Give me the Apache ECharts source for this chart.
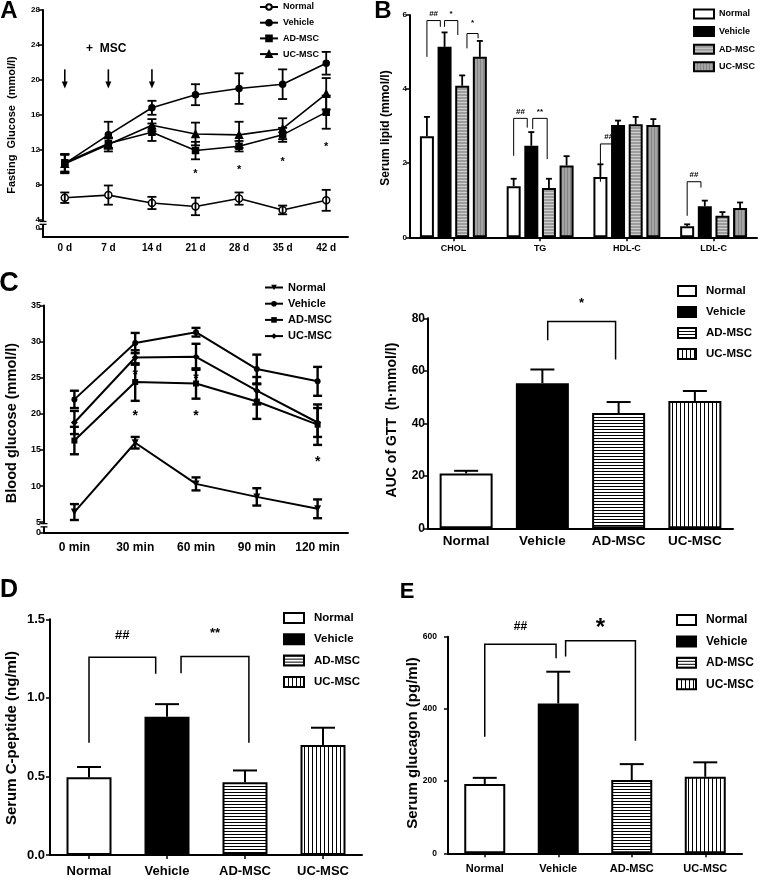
<!DOCTYPE html>
<html><head><meta charset="utf-8">
<script src="https://cdn.jsdelivr.net/npm/echarts@6/dist/echarts.min.js"></script>
<style>html,body{margin:0;padding:0;background:#fff}#c{width:762px;height:884px}</style>
</head><body><div id="c"></div>
<script>
const FONT = '"Liberation Sans", Arial, Helvetica, sans-serif';
const GROUPS = ['Normal', 'Vehicle', 'AD-MSC', 'UC-MSC'];

// ---------- Panel A : fasting glucose ----------
const daysA = ['0 d', '7 d', '14 d', '21 d', '28 d', '35 d', '42 d'];
const aNormal = [6.5, 6.8, 5.9, 5.5, 6.4, 5.1, 6.2];
const aNormalErr = [0.6, 1.1, 0.7, 1.0, 0.7, 0.5, 1.2];
const aVehicle = [10.4, 13.7, 16.8, 18.3, 19.0, 19.5, 21.9];
const aVehicleErr = [1.0, 1.5, 0.8, 1.2, 1.75, 1.7, 1.3];
const aAD = [10.5, 12.7, 14.0, 11.9, 12.4, 13.7, 16.3];
const aADErr = [1.0, 0.6, 1.0, 1.0, 0.6, 0.8, 1.9];
const aUC = [10.4, 12.6, 14.8, 13.8, 13.7, 14.4, 18.4];
const aUCErr = [1.1, 0.8, 0.7, 1.3, 1.5, 1.2, 1.8];
const aStars = [[3, 9.2], [4, 9.7], [5, 10.6], [6, 12.3]];
const aStarText = ['*', '*', '*', '*'];
const aArrows = [[0, 21.2, 19.0], [1, 21.2, 19.0], [2, 21.2, 19.0]];
const aTicks = [3, 4, 8, 12, 16, 20, 24, 28];      // 3 is printed as "0" below the break
const aTickText = {3: '0'};

// ---------- Panel B : serum lipid ----------
const lipidCats = ['CHOL', 'TG', 'HDL-C', 'LDL-C'];
const bNormal = [2.73, 1.38, 1.63, 0.30];
const bNormalErr = [0.52, 0.20, 0.34, 0.05];
const bVehicle = [5.14, 2.47, 3.03, 0.84];
const bVehicleErr = [0.39, 0.37, 0.12, 0.15];
const bAD = [4.09, 1.33, 3.05, 0.58];
const bADErr = [0.28, 0.25, 0.20, 0.10];
const bUC = [4.87, 1.94, 3.03, 0.79];
const bUCErr = [0.43, 0.25, 0.16, 0.15];
// [category, leftSlot, rightSlot, leftLegEnd, top, rightLegEnd, labelY]
const bBrackets = [
  [0, 0, 0.76, 4.87, 5.85, 5.68, 6.02],
  [0, 1.0, 1.75, 5.68, 5.85, 5.46, 6.02],
  [0, 2.27, 2.9, 5.1, 5.5, 5.37, 5.78],
  [1, 0, 0.77, 2.2, 3.21, 2.96, 3.4],
  [1, 1.08, 1.9, 2.92, 3.21, 2.11, 3.4],
  [2, 0, 0.95, 1.5, 2.52, 2.34, 2.7],
  [3, 0, 0.78, 0.58, 1.5, 1.34, 1.7]
];
const bBracketText = ['##', '*', '*', '##', '**', '##', '##'];

// ---------- Panel C left : GTT ----------
const gttTimes = ['0 min', '30 min', '60 min', '90 min', '120 min'];
const cNormal = [6.4, 16.0, 10.3, 8.5, 6.85];
const cNormalErr = [1.1, 0.8, 0.9, 1.2, 1.3];
const cVehicle = [22.0, 29.8, 31.3, 26.2, 24.5];
const cVehicleErr = [1.2, 1.4, 0.6, 2.0, 2.0];
const cAD = [16.3, 24.4, 24.2, 21.7, 18.5];
const cADErr = [1.9, 2.6, 2.1, 2.4, 2.8];
const cUC = [18.8, 27.8, 27.9, 23.2, 18.8];
const cUCErr = [1.6, 1.0, 1.8, 1.9, 2.0];
const cStars = [[1, 25.4], [1, 19.7], [2, 24.8], [2, 19.7], [4, 13.3]];
const cStarText = ['*', '*', '*', '*', '*'];
const cTicks = [3.5, 5, 10, 15, 20, 25, 30, 35];   // 3.5 is printed as "0" below the break
const cTickText = {3.5: '0'};

// ---------- Panel C right : AUC ----------
const aucValues = [20.9, 55.3, 43.9, 48.5];
const aucErr = [1.0, 5.2, 4.2, 3.8];
const aucBrackets = [[0, 1.07, 1.96, 71.6, 78.8, 64.3, 85.5]];
const aucBracketText = ['*'];

// ---------- Panel D : C-peptide ----------
const cpepValues = [0.495, 0.88, 0.463, 0.70];
const cpepErr = [0.065, 0.08, 0.075, 0.11];
const cpepBrackets = [[0, 0, 0.855, 0.715, 1.259, 1.153, 1.40], [0, 1.18, 2.05, 1.157, 1.263, 0.715, 1.41]];
const cpepBracketText = ['##', '**'];

// ---------- Panel E : glucagon ----------
const glucValues = [192, 415, 203, 212];
const glucErr = [17, 88, 44, 40];
const glucBrackets = [[0, 0, 0.97, 323, 579, 540, 627], [0, 1.1, 2.05, 545, 589, 312, 622]];
const glucBracketText = ['##', '*'];

// ---------- helpers ----------
function stripes(bg, fg, horizontal, step) {
  const c = document.createElement('canvas');
  c.width = horizontal ? 8 : step; c.height = horizontal ? step : 8;
  const g = c.getContext('2d');
  g.fillStyle = bg; g.fillRect(0, 0, c.width, c.height);
  g.fillStyle = fg;
  if (horizontal) g.fillRect(0, 0, c.width, 1); else g.fillRect(0, 0, 1, c.height);
  return { image: c, repeat: 'repeat' };
}
const AD_FILL = stripes('#ffffff', '#000000', true, 3);
const UC_FILL = stripes('#ffffff', '#000000', false, 4);
const AD_FILL_B = stripes('#9c9c9c', '#cfcfcf', true, 3);
const UC_FILL_B = stripes('#a4a4a4', '#858585', false, 3);
const BAR_FILLS = ['#ffffff', '#000000', AD_FILL, UC_FILL];
const BAR_FILLS_B = ['#ffffff', '#000000', AD_FILL_B, UC_FILL_B];
const BW_B = 14, STEP_B = BW_B * 1.26;

function txtStyle(text, font) {
  return { text, font, fill: '#000', align: 'center', verticalAlign: 'middle', textAlign: 'center', textVerticalAlign: 'middle' };
}
function ln(x1, y1, x2, y2, w) {
  return { type: 'line', shape: { x1, y1, x2, y2 }, style: { stroke: '#000', lineWidth: w } };
}
function symErr(cap, lw) {
  return function (params, api) {
    const i = api.value(0), v = api.value(1), e = api.value(2);
    const hi = api.coord([i, v + e]), lo = api.coord([i, v - e]);
    const x = hi[0];
    return { type: 'group', children: [ln(x, hi[1], x, lo[1], lw), ln(x - cap, hi[1], x + cap, hi[1], lw), ln(x - cap, lo[1], x + cap, lo[1], lw)] };
  };
}
function upErr(offset, cap, lw) {
  return function (params, api) {
    const i = api.value(0), v = api.value(1), e = api.value(2);
    const p0 = api.coord([i, v]), p1 = api.coord([i, v + e]);
    const x = p0[0] + offset;
    return { type: 'group', children: [ln(x, p0[1], x, p1[1], lw), ln(x - cap, p1[1], x + cap, p1[1], lw)] };
  };
}
function textMarks(texts, font) {
  return function (params, api) {
    const p = api.coord([api.value(0), api.value(1)]);
    return { type: 'text', x: p[0], y: p[1], style: txtStyle(texts[params.dataIndex], font) };
  };
}
const xSlotB = (api, cat, slot) => api.coord([cat, 0])[0] + (slot - 1.5) * STEP_B;
const xBand = (api, cat, pos) => api.coord([0, 0])[0] + pos * api.size([1, 0])[0];
function brackets(rows, texts, xAt, lw, fontFn) {
  return function (params, api) {
    const r = rows[params.dataIndex], cat = r[0];
    const x1 = xAt(api, cat, r[1]), x2 = xAt(api, cat, r[2]);
    const yL = api.coord([cat, r[3]])[1], yT = api.coord([cat, r[4]])[1], yR = api.coord([cat, r[5]])[1], yLab = api.coord([cat, r[6]])[1];
    const t = texts[params.dataIndex];
    return { type: 'group', children: [
      { type: 'polyline', shape: { points: [[x1, yL], [x1, yT], [x2, yT], [x2, yR]] }, style: { stroke: '#000', lineWidth: lw, fill: null } },
      { type: 'text', x: (x1 + x2) / 2, y: yLab, style: txtStyle(t, fontFn(t)) }
    ] };
  };
}
function arrows(params, api) {
  const i = api.value(0);
  const p0 = api.coord([i, api.value(1)]), p1 = api.coord([i, api.value(2)]);
  return { type: 'group', children: [
    ln(p0[0], p0[1], p1[0], p1[1] - 5, 1.6),
    { type: 'polygon', shape: { points: [[p1[0] - 3, p1[1] - 7], [p1[0] + 3, p1[1] - 7], [p1[0], p1[1]]] }, style: { fill: '#000' } }
  ] };
}
function axisBreak(vHi, vLo, half) {
  return function (params, api) {
    const x = params.coordSys.x;
    const y1 = api.coord([0, vHi])[1], y2 = api.coord([0, vLo])[1];
    return { type: 'group', children: [
      { type: 'rect', shape: { x: x - 2, y: y1, width: 4, height: y2 - y1 }, style: { fill: '#fff' } },
      ln(x - half, y1, x + half, y1, 1.3), ln(x - half, y2, x + half, y2, 1.3)
    ] };
  };
}
const onlyAt = (vals, i) => vals.map((v, j) => (j === i ? v : '-'));
const errRows = (vals, errs) => vals.map((v, i) => [i, v, errs[i]]);

function catAxis(grid, data, fs, margin, ticks) {
  return {
    gridIndex: grid, type: 'category', data, boundaryGap: true,
    axisLine: { onZero: false, lineStyle: { color: '#000', width: 2 } },
    axisTick: { show: ticks, alignWithLabel: true, length: 4, lineStyle: { color: '#000', width: 1.5 } },
    axisLabel: { color: '#000', fontFamily: FONT, fontWeight: 'bold', fontSize: fs, margin, interval: 0 },
    splitLine: { show: false }
  };
}
function valAxis(grid, min, max, interval, fs, margin, extra, fmt) {
  const ax = {
    gridIndex: grid, type: 'value', min, max, interval,
    axisLine: { show: true, lineStyle: { color: '#000', width: 2 } },
    axisTick: { show: true, length: 4, lineStyle: { color: '#000', width: 1.5 } },
    axisLabel: { color: '#000', fontFamily: FONT, fontWeight: 'bold', fontSize: fs, margin },
    splitLine: { show: false }
  };
  if (fmt) ax.axisLabel.formatter = fmt;
  if (extra) {
    ax.axisTick.customValues = extra.values;
    ax.axisLabel.customValues = extra.values;
    ax.axisLabel.formatter = v => (extra.text[v] !== undefined ? extra.text[v] : String(v));
    delete ax.interval;
  }
  return ax;
}
function legendOf(prefix, left, top, fs, lh, gap, iw, ih, pad, icon) {
  const l = {
    orient: 'vertical', left, top, itemWidth: iw, itemHeight: ih, itemGap: gap, padding: 0,
    selectedMode: false, data: GROUPS.map(g => prefix + ':' + g),
    formatter: n => n.slice(n.indexOf(':') + 1),
    textStyle: { fontFamily: FONT, fontWeight: 'bold', fontSize: fs, lineHeight: lh, color: '#000', padding: [0, 0, 0, pad] }
  };
  if (icon) l.icon = icon;
  return l;
}

const series = [];
// Panel A lines
const aSets = [[aNormal, aNormalErr, 'circle', 7, '#fff'], [aVehicle, aVehicleErr, 'circle', 6, '#000'], [aAD, aADErr, 'rect', 6, '#000'], [aUC, aUCErr, 'triangle', 7, '#000']];
aSets.forEach((s, k) => {
  series.push({ type: 'line', name: 'A:' + GROUPS[k], xAxisIndex: 0, yAxisIndex: 0, data: s[0], symbol: s[2], symbolSize: s[3],
    lineStyle: { color: '#000', width: 1.6 }, itemStyle: { color: s[4], borderColor: '#000', borderWidth: 1.5 }, z: 3 });
  series.push({ type: 'custom', name: 'aErr' + k, xAxisIndex: 0, yAxisIndex: 0, data: errRows(s[0], s[1]), renderItem: symErr(4.5, 1.8), z: 4 });
});
series.push({ type: 'custom', name: 'aStars', xAxisIndex: 0, yAxisIndex: 0, data: aStars, renderItem: textMarks(aStarText, 'bold 11px ' + FONT), z: 4 });
series.push({ type: 'custom', name: 'aArrows', xAxisIndex: 0, yAxisIndex: 0, data: aArrows, renderItem: arrows, z: 4 });
series.push({ type: 'custom', name: 'aBreak', xAxisIndex: 0, yAxisIndex: 0, data: [[0, 3.78]], renderItem: axisBreak(3.78, 3.45, 3.5), z: 10 });

// Panel B bars
[[bNormal, bNormalErr], [bVehicle, bVehicleErr], [bAD, bADErr], [bUC, bUCErr]].forEach((s, k) => {
  series.push({ type: 'bar', name: 'B:' + GROUPS[k], xAxisIndex: 1, yAxisIndex: 1, data: s[0], barWidth: BW_B, barGap: '26%',
    itemStyle: { color: BAR_FILLS_B[k], borderColor: '#000', borderWidth: 2 } });
  series.push({ type: 'custom', name: 'bErr' + k, xAxisIndex: 1, yAxisIndex: 1, data: errRows(s[0], s[1]), renderItem: upErr((k - 1.5) * STEP_B, 3, 1.8), z: 4 });
});
series.push({ type: 'custom', name: 'bBr', xAxisIndex: 1, yAxisIndex: 1, data: bBrackets, renderItem: brackets(bBrackets, bBracketText, xSlotB, 1, t => 'bold 8px ' + FONT), z: 4 });

// Panel C left lines
const cSets = [[cNormal, cNormalErr, 'triangle', 7, 180], [cVehicle, cVehicleErr, 'circle', 6, 0], [cAD, cADErr, 'rect', 6, 0], [cUC, cUCErr, 'diamond', 7, 0]];
cSets.forEach((s, k) => {
  series.push({ type: 'line', name: 'C:' + GROUPS[k], xAxisIndex: 2, yAxisIndex: 2, data: s[0], symbol: s[2], symbolSize: s[3], symbolRotate: s[4],
    lineStyle: { color: '#000', width: 2 }, itemStyle: { color: '#000' }, z: 3 });
  series.push({ type: 'custom', name: 'cErr' + k, xAxisIndex: 2, yAxisIndex: 2, data: errRows(s[0], s[1]), renderItem: symErr(4.5, 2.4), z: 4 });
});
series.push({ type: 'custom', name: 'cStars', xAxisIndex: 2, yAxisIndex: 2, data: cStars, renderItem: textMarks(cStarText, 'bold 14px ' + FONT), z: 4 });
series.push({ type: 'custom', name: 'cBreak', xAxisIndex: 2, yAxisIndex: 2, data: [[0, 4.8]], renderItem: axisBreak(4.8, 4.35, 3.5), z: 10 });

// Panels C right, D, E : one bar per group
function singleBarPanel(prefix, axisIdx, vals, errs, bw, cap, br, brText, brFont) {
  GROUPS.forEach((g, k) => {
    series.push({ type: 'bar', name: prefix + ':' + g, xAxisIndex: axisIdx, yAxisIndex: axisIdx, data: onlyAt(vals, k), barWidth: bw, barGap: '-100%',
      itemStyle: { color: BAR_FILLS[k], borderColor: '#000', borderWidth: 2 } });
  });
  series.push({ type: 'custom', name: prefix + 'Err', xAxisIndex: axisIdx, yAxisIndex: axisIdx, data: errRows(vals, errs), renderItem: upErr(0, cap, 2), z: 4 });
  series.push({ type: 'custom', name: prefix + 'Br', xAxisIndex: axisIdx, yAxisIndex: axisIdx, data: br, renderItem: brackets(br, brText, xBand, 1.5, brFont), z: 4 });
}
singleBarPanel('G', 3, aucValues, aucErr, 53, 12, aucBrackets, aucBracketText, t => 'bold 13px ' + FONT);
singleBarPanel('D', 4, cpepValues, cpepErr, 45, 12, cpepBrackets, cpepBracketText, t => 'bold 13px ' + FONT);
singleBarPanel('E', 5, glucValues, glucErr, 41, 12, glucBrackets, glucBracketText, t => (t === '*' ? 'bold 24px ' : 'bold 12px ') + FONT);

const gtxt = (x, y, text, font, rot) => ({ type: 'text', x, y, rotation: rot || 0, style: txtStyle(text, font) });

const option = {
  animation: false,
  backgroundColor: '#fff',
  grid: [
    { left: 43, top: 10, width: 305, height: 227 },
    { left: 410, top: 15, width: 347, height: 222.3 },
    { left: 44, top: 305.5, width: 304, height: 227.5 },
    { left: 428, top: 318.3, width: 305, height: 210 },
    { left: 50, top: 619.3, width: 312, height: 235.7 },
    { left: 448, top: 636.7, width: 294, height: 216.6 }
  ].map(g => Object.assign(g, { containLabel: false, outerBoundsMode: 'none' })),
  xAxis: [
    catAxis(0, daysA, 10, 6, false),
    catAxis(1, lipidCats, 9, 7, true),
    catAxis(2, gttTimes, 12, 9, false),
    catAxis(3, GROUPS, 13.5, 6, false),
    catAxis(4, GROUPS, 13, 10, true),
    catAxis(5, GROUPS, 11, 10, true)
  ],
  yAxis: [
    valAxis(0, 2, 28, null, 8, 3, { values: aTicks, text: aTickText }),
    valAxis(1, 0, 6, 2, 8, 3),
    valAxis(2, 3.5, 35, null, 9, 3, { values: cTicks, text: cTickText }),
    valAxis(3, 0, 80, 20, 12, 3),
    valAxis(4, 0, 1.5, 0.5, 13, 5, null, v => v.toFixed(1)),
    valAxis(5, 0, 600, 200, 8.5, 11)
  ],
  legend: [
    legendOf('A', 259, 1, 9, 12, 3.7, 18, 7, 0),
    legendOf('B', 693, 8, 9, 12, 5.6, 20, 9, 0, 'rect'),
    legendOf('C', 264, 281, 11, 13, 3.2, 18, 7, 0),
    legendOf('G', 677, 284, 11.5, 14, 7, 18, 10, 5, 'rect'),
    legendOf('D', 283, 611, 11.5, 14, 7.3, 20, 10, 5, 'rect'),
    legendOf('E', 676, 613, 12, 14, 7.4, 19, 10, 5, 'rect')
  ],
  graphic: [
    gtxt(9, 11, 'A', 'bold 24px ' + FONT),
    gtxt(383, 11, 'B', 'bold 24px ' + FONT),
    gtxt(9, 284, 'C', 'bold 27px ' + FONT),
    gtxt(9, 590, 'D', 'bold 25px ' + FONT),
    gtxt(407, 592, 'E', 'bold 22px ' + FONT),
    { type: 'text', x: 86, y: 49, style: { text: '+  MSC', font: 'bold 12px ' + FONT, fill: '#000', align: 'left', verticalAlign: 'middle', textAlign: 'left', textVerticalAlign: 'middle' } },
    gtxt(12, 125, 'Fasting  Glucose  (mmol/l)', 'bold 11px ' + FONT, Math.PI / 2),
    gtxt(386, 128, 'Serum lipid (mmol/l)', 'bold 12px ' + FONT, Math.PI / 2),
    gtxt(12, 423, 'Blood glucose (mmol/l)', 'bold 14.5px ' + FONT, Math.PI / 2),
    gtxt(392, 420, 'AUC of GTT  (h·mmol/l)', 'bold 14px ' + FONT, Math.PI / 2),
    gtxt(12, 738, 'Serum C-peptide (ng/ml)', 'bold 15px ' + FONT, Math.PI / 2),
    gtxt(413, 743, 'Serum glucagon (pg/ml)', 'bold 15px ' + FONT, Math.PI / 2)
  ],
  series: series.map(s => Object.assign({ silent: true }, s))
};
const chart = echarts.init(document.getElementById('c'), null, { renderer: 'canvas', width: 762, height: 884 });
chart.setOption(option);
</script></body></html>
